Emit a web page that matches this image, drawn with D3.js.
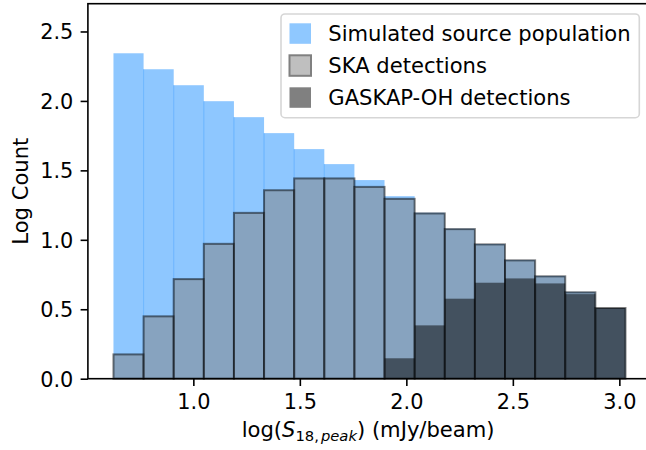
<!DOCTYPE html>
<html>
<head>
<meta charset="utf-8">
<script src="https://cdn.jsdelivr.net/npm/d3@7"></script>
<style>
  body { margin: 0; background: #fff; }
  svg { display: block; font-family: "DejaVu Sans", sans-serif; }
</style>
</head>
<body>
<svg id="chart" width="646" height="450"></svg>
<script>
// histogram bins (log S peak), 17 equal-width bins
const binStart = 0.625;
const binWidth = 0.1414;
// log counts per bin
const simulated = [2.343, 2.228, 2.113, 1.998, 1.883, 1.768, 1.653, 1.545, 1.43, 1.314, 1.195, 1.08, 0.97, 0.855, 0.74, 0.625, 0.509];
const skaDet = [0.175, 0.449, 0.717, 0.971, 1.194, 1.357, 1.442, 1.442, 1.381, 1.295, 1.19, 1.077, 0.967, 0.852, 0.737, 0.622, 0.509];
const gaskapDet = [0, 0, 0, 0, 0, 0, 0, 0, 0, 0.147, 0.384, 0.576, 0.691, 0.722, 0.686, 0.609, 0.509];

const xTicks = [1.0, 1.5, 2.0, 2.5, 3.0];
const yTicks = [0.0, 0.5, 1.0, 1.5, 2.0, 2.5];
const legendLabels = ["Simulated source population", "SKA detections", "GASKAP-OH detections"];

const fontSize = 20.83;
const labelSize = 21.1;
const plot = { left: 87.9, right: 651.3, top: 3.7, bottom: 378.7 };

const svg = d3.select("#chart");

const x = d3.scaleLinear().domain([0.505, 3.15]).range([plot.left, plot.right]);
const y = d3.scaleLinear().domain([0, 2.7]).range([plot.bottom, plot.top]);

function binLeft(i) { return binStart + i * binWidth; }

//draw one histogram series as rects
function drawBars(values, cls) {
    return svg.append("g").attr("class", cls)
        .selectAll("rect")
        .data(values.map((v, i) => ({ v: v, i: i })).filter(d => d.v > 0))
        .enter().append("rect")
        .attr("x", d => x(binLeft(d.i)))
        .attr("y", d => y(d.v))
        .attr("width", d => x(binLeft(d.i + 1)) - x(binLeft(d.i)))
        .attr("height", d => y(0) - y(d.v));
}

drawBars(simulated, "sim")
    .attr("fill", "#1e90ff")
    .attr("fill-opacity", 0.5);

// faint seams where neighbouring blue bars overlap
svg.append("g").selectAll("line")
    .data(simulated.slice(1).map((v, k) => ({ i: k + 1, h: Math.min(v, simulated[k]) })))
    .enter().append("line")
    .attr("x1", d => x(binLeft(d.i))).attr("x2", d => x(binLeft(d.i)))
    .attr("y1", y(0)).attr("y2", d => y(d.h))
    .attr("stroke", "#1e90ff").attr("stroke-opacity", 0.35).attr("stroke-width", 1);

drawBars(skaDet, "ska")
    .attr("fill", "#808080")
    .attr("fill-opacity", 0.5)
    .attr("stroke", "#000")
    .attr("stroke-opacity", 0.5)
    .attr("stroke-width", 2);

drawBars(gaskapDet, "gaskap")
    .attr("fill", "#000")
    .attr("fill-opacity", 0.5);

// axes
const xAxis = d3.axisBottom(x).tickValues(xTicks).tickFormat(d3.format(".1f"))
    .tickSizeOuter(0).tickSize(7.3).tickPadding(7.3);
const yAxis = d3.axisLeft(y).tickValues(yTicks).tickFormat(d3.format(".1f"))
    .tickSizeOuter(0).tickSize(7.3).tickPadding(7.3);

const gx = svg.append("g").attr("transform", `translate(0,${plot.bottom})`).call(xAxis);
const gy = svg.append("g").attr("transform", `translate(${plot.left},0)`).call(yAxis);

[gx, gy].forEach(g => {
    g.select(".domain").remove();
    g.selectAll("line").attr("stroke", "#000").attr("stroke-width", 1.6);
    g.selectAll("text").attr("fill", "#000")
        .attr("font-size", fontSize)
        .attr("font-family", "DejaVu Sans");
});
gx.selectAll("text").attr("dy", "0.74em");
gy.selectAll("text").attr("dy", "0.36em");

// frame
svg.append("rect")
    .attr("x", plot.left).attr("y", plot.top)
    .attr("width", plot.right - plot.left).attr("height", plot.bottom - plot.top)
    .attr("fill", "none").attr("stroke", "#000").attr("stroke-width", 1.6);

// axis labels
const xl = svg.append("text")
    .attr("x", (plot.left + plot.right) / 2 - 1.5)
    .attr("y", 437)
    .attr("text-anchor", "middle")
    .attr("font-size", labelSize);
xl.append("tspan").text("log(");
xl.append("tspan").attr("font-style", "italic").text("S");
xl.append("tspan").attr("font-size", labelSize * 0.7).attr("dy", 4).text("18,");
xl.append("tspan").attr("font-size", labelSize * 0.7).attr("font-style", "italic").attr("dx", 2).text("peak");
xl.append("tspan").attr("dy", -4).text(") (mJy/beam)");

svg.append("text")
    .attr("transform", `translate(28.3,${(plot.top + plot.bottom) / 2}) rotate(-90)`)
    .attr("text-anchor", "middle")
    .attr("font-size", labelSize)
    .text("Log Count");

// legend
const legend = svg.append("g");
legend.append("rect")
    .attr("x", 281).attr("y", 14).attr("width", 358.3).attr("height", 103.7)
    .attr("rx", 4).attr("fill", "#fff").attr("fill-opacity", 0.8)
    .attr("stroke", "#d6d6d6").attr("stroke-width", 1.6);

const handles = [
    { fill: "#8fc8ff", stroke: "none" },
    { fill: "#bfbfbf", stroke: "#808080" },
    { fill: "#808080", stroke: "none" }
];
legendLabels.forEach((lab, i) => {
    const top = 23.3 + i * 32;
    legend.append("rect")
        .attr("x", 289.5).attr("y", top).attr("width", 21.5).attr("height", 20.5)
        .attr("fill", handles[i].fill)
        .attr("stroke", handles[i].stroke)
        .attr("stroke-width", handles[i].stroke === "none" ? 0 : 2);
    legend.append("text")
        .attr("x", 328.3).attr("y", top + 17.4)
        .attr("font-size", labelSize)
        .text(lab);
});
</script>
</body>
</html>
